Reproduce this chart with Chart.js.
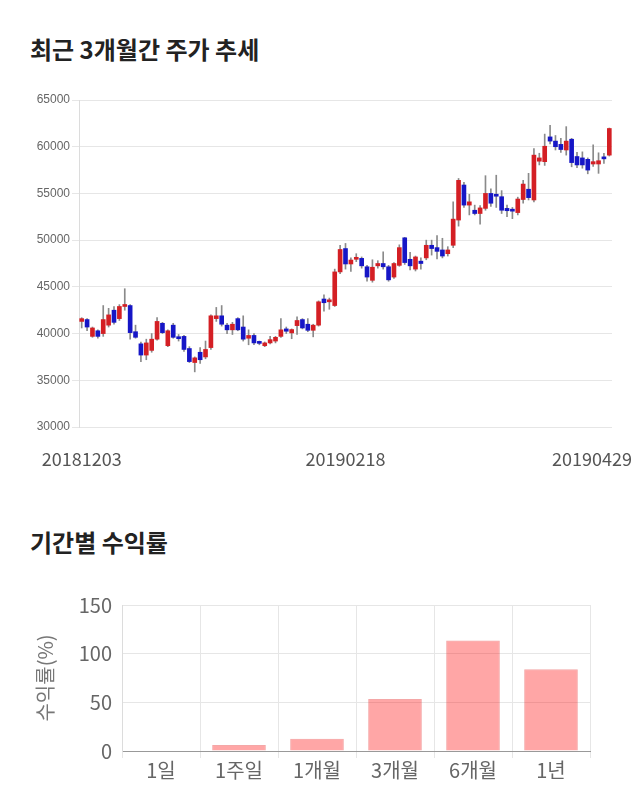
<!DOCTYPE html>
<html>
<head>
<meta charset="utf-8">
<script src="https://cdn.jsdelivr.net/npm/chart.js@4.4.1/dist/chart.umd.min.js"></script>
<style>
  body { margin: 0; background: #fff; width: 640px; height: 810px; position: relative; overflow: hidden; font-family: "Noto Sans CJK KR", sans-serif; }
  .title { position: absolute; left: 30px; font-size: 24px; font-weight: 700; color: #222; line-height: 1; }
  #t1 { top: 37px; }
  #t2 { top: 530px; }
  .box { position: absolute; left: 0; width: 640px; }
  #priceBox { top: 80px; height: 400px; }
  #returnBox { top: 580px; height: 215px; }
</style>
</head>
<body>
<div class="title" id="t1">최근 3개월간 주가 추세</div>
<div class="box" id="priceBox"><canvas id="priceChart"></canvas></div>
<div class="title" id="t2">기간별 수익률</div>
<div class="box" id="returnBox"><canvas id="returnChart"></canvas></div>
<script>
// trading days shown in the candle chart
const dates = [
  '20181203','20181204','20181205','20181206','20181207','20181210','20181211','20181212','20181213','20181214',
  '20181217','20181218','20181219','20181220','20181221','20181224','20181226','20181227','20181228',
  '20190102','20190103','20190104','20190107','20190108','20190109','20190110','20190111','20190114','20190115',
  '20190116','20190117','20190118','20190121','20190122','20190123','20190124','20190125','20190128','20190129',
  '20190130','20190131','20190201','20190207','20190208','20190211','20190212','20190213','20190214','20190215',
  '20190218','20190219','20190220','20190221','20190222','20190225','20190226','20190227','20190228',
  '20190304','20190305','20190306','20190307','20190308','20190311','20190312','20190313','20190314','20190315',
  '20190318','20190319','20190320','20190321','20190322','20190325','20190326','20190327','20190328','20190329',
  '20190401','20190402','20190403','20190404','20190405','20190408','20190409','20190410','20190411','20190412',
  '20190415','20190416','20190417','20190418','20190419','20190422','20190423','20190424','20190425','20190426',
  '20190429'
];
const xTickLabels = ['20181203', '20190218', '20190429'];

const opens = [41300,41500,39700,40300,40000,40900,42500,41600,42900,43000,
  40200,38900,37700,38200,39400,41100,38700,40900,39500,39700,
  38400,36900,38000,37500,38500,41600,41900,40900,40400,41600,
  40700,39500,39800,39000,38700,39000,39200,39700,40500,40070,
  40850,41500,41000,40350,40900,43700,43400,43000,46600,49100,
  47450,47950,48050,47150,45700,47250,47500,47150,46050,47300,
  50250,47950,46900,47750,48100,49450,49200,48950,48550,49450,
  52150,55900,53750,53200,52850,53400,55000,54800,54650,53400,
  53300,52950,54350,55450,54300,58450,58400,61050,60600,60250,
  59650,60800,58950,58800,58650,58150,58150,58900,59100];
const highs = [41700,41600,40700,40400,43000,42700,42900,43100,44800,43100,
  40900,39100,39400,40000,41700,41200,40400,41100,39900,39800,
  38600,37500,38500,39200,42000,42800,43000,41100,41200,41700,
  41900,40400,40000,39200,39100,39700,39700,41600,40700,40500,
  41800,41600,41600,41000,43500,44150,43800,46900,49450,49650,
  48100,48550,48200,47300,47900,47800,48750,47300,47600,49500,
  50300,48700,48300,48100,50000,50000,50500,50200,49300,54100,
  56600,56200,54900,53750,53700,56900,55500,56950,55300,53750,
  53500,54600,56400,57150,59800,59300,61350,62300,61200,60900,
  62150,60900,59400,59450,58800,60200,59350,59300,62000];
const lows = [40600,40300,39600,39500,39700,40700,41000,41400,42500,39400,
  39500,37000,37200,38000,39300,40000,38600,39500,39200,38100,
  36900,35900,36800,37300,38300,41300,40800,40000,39900,40300,
  39200,38800,38800,38800,38600,38900,39000,39600,40000,39450,
  39900,40500,40200,39650,40800,42400,42600,42900,46400,46900,
  46650,47700,47000,45600,45500,47000,46900,45600,45900,47200,
  47400,46800,46700,46900,47900,48400,48000,48100,48300,49200,
  51500,53500,52700,52700,51700,53200,53600,53500,52850,52500,
  52300,52700,53950,54300,54100,58050,58000,60300,59650,59400,
  59100,57850,57750,57700,57100,57900,57150,58200,59000];
const closes = [41600,40700,40600,39700,41500,42000,41200,42900,43000,40100,
  39600,37700,39000,39400,41300,40100,40300,39600,39450,38300,
  37000,37400,37200,38300,41900,41900,41000,40400,41000,40400,
  39400,39800,39000,38950,39000,39350,39600,40400,40250,40430,
  41400,40600,40350,40900,43400,43300,43450,46600,49000,47450,
  47870,48150,47250,46050,47100,47500,47150,45750,47500,49200,
  47600,47250,48200,47500,49450,49100,48800,48300,48950,52250,
  56400,53750,54100,52850,53450,55000,53950,54700,53200,53150,
  53100,54400,56000,54550,59100,58800,60050,60600,60000,59700,
  60600,58300,58050,58050,57500,58400,58500,58700,61950];

// period returns (%)
const periods = ['1일', '1주일', '1개월', '3개월', '6개월', '1년'];
const returns = [0, 6.1, 12.6, 53.3, 113.4, 84.0];

const UP = '#d41f24';
const DOWN = '#1616c6';

const dateLabels = {
  id: 'dateLabels',
  afterDraw(chart) {
    const { ctx, chartArea, width } = chart;
    const x = chart.scales.x;
    ctx.save();
    ctx.font = '18px "Noto Sans CJK KR"';
    ctx.fillStyle = '#555';
    ctx.textAlign = 'center';
    ctx.textBaseline = 'middle';
    xTickLabels.forEach(label => {
      const w = ctx.measureText(label).width;
      let px = x.getPixelForValue(dates.indexOf(label));
      px = Math.min(Math.max(px, w / 2 + 8), width - w / 2 - 8);
      ctx.fillText(label, px, chartArea.bottom + 32);
    });
    ctx.restore();
  }
};

new Chart(document.getElementById('priceChart'), {
  type: 'bar',
  data: {
    labels: dates,
    datasets: [
      {
        data: dates.map((d, i) => [opens[i], closes[i]]),
        backgroundColor: dates.map((d, i) => closes[i] >= opens[i] ? UP : DOWN),
        barThickness: 4,
        minBarLength: 2,
        grouped: false
      },
      {
        data: dates.map((d, i) => [lows[i], highs[i]]),
        backgroundColor: '#8a8a8a',
        barThickness: 1,
        grouped: false
      }
    ]
  },
  options: {
    responsive: true,
    maintainAspectRatio: false,
    animation: false,
    layout: { padding: { top: 20, right: 28, bottom: 53, left: 0 } },
    plugins: { legend: { display: false }, tooltip: { enabled: false } },
    scales: {
      x: { display: false },
      y: {
        min: 30000,
        max: 65000,
        afterFit: s => { s.width = 79; },
        ticks: {
          stepSize: 5000,
          padding: 2,
          color: '#666',
          font: { family: '"Liberation Sans", Arial, sans-serif', size: 12 },
          callback: v => v
        },
        grid: { color: '#e6e6e6', tickLength: 7 },
        border: { color: '#dcdcdc' }
      }
    }
  },
  plugins: [dateLabels]
});

new Chart(document.getElementById('returnChart'), {
  type: 'bar',
  data: {
    labels: periods,
    datasets: [{
      data: returns,
      backgroundColor: 'rgba(255, 0, 0, 0.35)',
      borderColor: 'rgba(230, 60, 60, 0.45)',
      borderWidth: 1,
      barPercentage: 0.86,
      categoryPercentage: 0.8
    }]
  },
  options: {
    responsive: true,
    maintainAspectRatio: false,
    animation: false,
    layout: { padding: { top: 25, right: 50, bottom: 13, left: 0 } },
    plugins: { legend: { display: false }, tooltip: { enabled: false } },
    scales: {
      x: {
        ticks: { color: '#666', padding: 0, font: { family: '"Noto Sans CJK KR", sans-serif', size: 20 } },
        grid: { color: '#e6e6e6', tickLength: 7 },
        border: { color: '#999' }
      },
      y: {
        min: 0,
        max: 150,
        afterFit: s => { s.width = 122; },
        ticks: { stepSize: 50, padding: 10, color: '#666', font: { family: '"Noto Sans CJK KR", sans-serif', size: 20 } },
        grid: { color: '#e6e6e6', drawTicks: false },
        border: { color: '#dcdcdc' },
        title: {
          display: true,
          text: '수익률(%)',
          color: '#777',
          padding: { top: 33, bottom: 0 },
          font: { family: '"Noto Sans CJK KR", sans-serif', size: 20 }
        }
      }
    }
  }
});
</script>
</body>
</html>
